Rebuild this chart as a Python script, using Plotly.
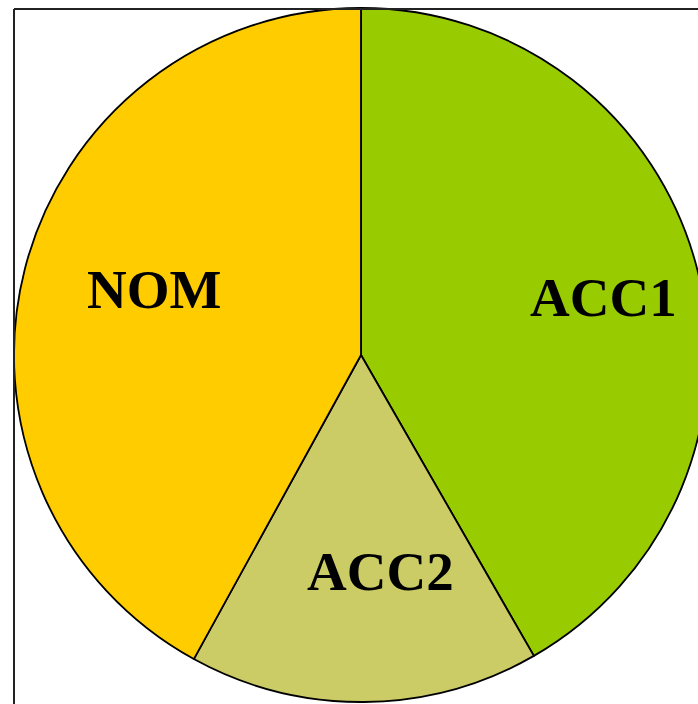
import plotly.graph_objects as go

# Share of time spent in each mode
modes = ["ACC1", "ACC2", "NOM"]
shares = [41.7, 16.3, 42.0]
colors = ["#99CC00", "#CCCC66", "#FFCC00"]

# Label anchor points (pixels from top-left) for each mode
label_px = [(603, 297), (380, 571), (154, 289)]

W, H = 712, 704

fig = go.Figure(
    go.Pie(
        labels=modes,
        values=shares,
        sort=False,
        direction="clockwise",
        rotation=0,
        marker=dict(colors=colors, line=dict(color="#000000", width=1.8)),
        textinfo="none",
        hoverinfo="label+percent",
        hole=0,
        showlegend=False,
        domain=dict(x=[14 / W, 708 / W], y=[2 / H, 696 / H]),
    )
)

for name, (px, py) in zip(modes, label_px):
    fig.add_annotation(
        text=name,
        xref="paper", yref="paper",
        x=px / W, y=1 - py / H,
        xanchor="center", yanchor="middle",
        showarrow=False,
        font=dict(family="Liberation Serif", size=55, color="#000000", weight="bold"),
    )

# Frame around the chart area
fig.add_shape(type="line", xref="paper", yref="paper",
              x0=14 / W, x1=14 / W, y0=-0.1, y1=1 - 9 / H,
              line=dict(color="#222222", width=2))
fig.add_shape(type="line", xref="paper", yref="paper",
              x0=14 / W, x1=1.1, y0=1 - 9 / H, y1=1 - 9 / H,
              line=dict(color="#222222", width=2))

fig.update_layout(
    width=W,
    height=H,
    margin=dict(l=0, r=0, t=0, b=0),
    paper_bgcolor="#FFFFFF",
    plot_bgcolor="#FFFFFF",
)

fig.write_html("out.html")
